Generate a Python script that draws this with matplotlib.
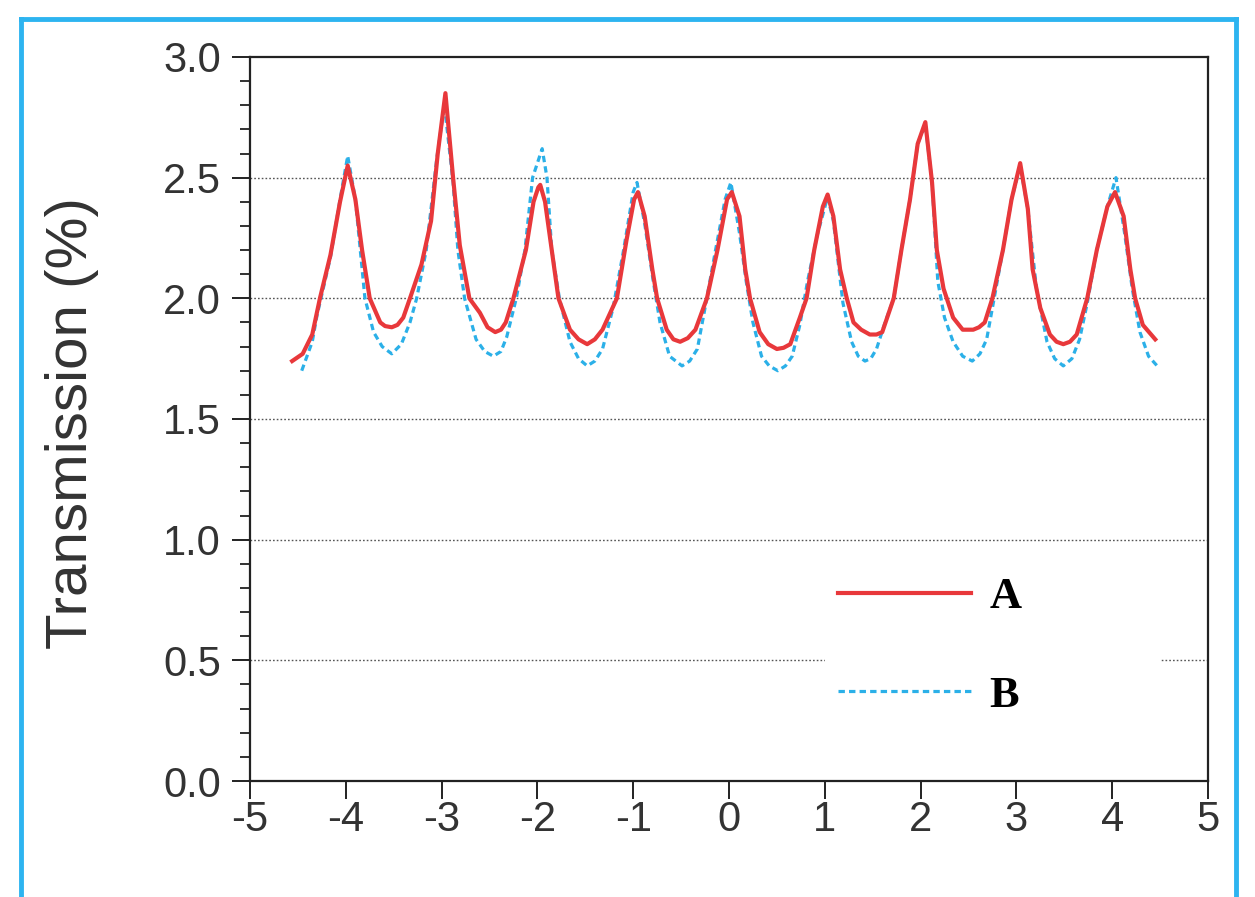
import matplotlib
matplotlib.use("Agg")
import matplotlib.pyplot as plt
from matplotlib.lines import Line2D
from matplotlib.ticker import MultipleLocator

# ---- data ----
x_a = [-4.56, -4.45, -4.35, -4.27, -4.16, -4.06, -3.98,
       -3.90, -3.83, -3.75, -3.64, -3.59, -3.52, -3.46, -3.40, -3.33, -3.21, -3.11, -3.04, -2.96,
       -2.88, -2.81, -2.71, -2.60, -2.52, -2.44, -2.38, -2.33, -2.25, -2.12, -2.04, -1.99, -1.97,
       -1.92, -1.85, -1.78, -1.66, -1.57, -1.48, -1.40, -1.32, -1.17, -1.07, -0.99, -0.95,
       -0.88, -0.80, -0.75, -0.65, -0.58, -0.51, -0.43, -0.35, -0.23, -0.12, -0.02, 0.03,
       0.11, 0.17, 0.22, 0.32, 0.41, 0.50, 0.57, 0.64, 0.74, 0.81, 0.89, 0.98, 1.03,
       1.09, 1.16, 1.23, 1.30, 1.38, 1.47, 1.54, 1.60, 1.72, 1.80, 1.89, 1.97, 2.05,
       2.12, 2.17, 2.24, 2.34, 2.44, 2.55, 2.61, 2.67, 2.75, 2.86, 2.95, 3.04,
       3.12, 3.17, 3.25, 3.35, 3.42, 3.49, 3.56, 3.63, 3.74, 3.84, 3.95, 4.03,
       4.12, 4.19, 4.24, 4.32, 4.45]
y_a = [1.74, 1.77, 1.85, 2.00, 2.18, 2.40, 2.55,
       2.41, 2.20, 2.00, 1.90, 1.885, 1.88, 1.89, 1.92, 2.00, 2.14, 2.32, 2.60, 2.85,
       2.50, 2.22, 2.00, 1.94, 1.88, 1.86, 1.87, 1.90, 2.00, 2.20, 2.40, 2.46, 2.47,
       2.40, 2.20, 2.00, 1.87, 1.83, 1.81, 1.83, 1.87, 2.00, 2.24, 2.41, 2.44,
       2.34, 2.12, 2.00, 1.87, 1.83, 1.82, 1.835, 1.87, 2.00, 2.20, 2.41, 2.44,
       2.34, 2.12, 2.00, 1.86, 1.81, 1.79, 1.795, 1.81, 1.92, 2.00, 2.20, 2.38, 2.43,
       2.34, 2.12, 2.00, 1.90, 1.87, 1.85, 1.85, 1.86, 2.00, 2.20, 2.41, 2.64, 2.73,
       2.48, 2.20, 2.04, 1.92, 1.87, 1.87, 1.88, 1.90, 2.00, 2.20, 2.41, 2.56,
       2.37, 2.12, 1.96, 1.85, 1.82, 1.81, 1.82, 1.85, 2.00, 2.20, 2.38, 2.44,
       2.34, 2.12, 2.00, 1.89, 1.83]

x_b = [-4.46, -4.35, -4.30, -4.16, -4.06, -3.98,
       -3.90, -3.80, -3.71, -3.62, -3.52, -3.42, -3.33, -3.26, -3.16, -3.05, -2.97,
       -2.88, -2.83, -2.76, -2.64, -2.55, -2.46, -2.38, -2.32, -2.22, -2.13, -2.05, -1.95,
       -1.90, -1.85, -1.77, -1.66, -1.57, -1.48, -1.40, -1.32, -1.21, -1.10, -1.00, -0.96,
       -0.88, -0.79, -0.72, -0.62, -0.49, -0.41, -0.33, -0.25, -0.14, -0.04, 0.02,
       0.11, 0.18, 0.25, 0.34, 0.42, 0.51, 0.59, 0.66, 0.74, 0.82, 0.92, 1.03,
       1.09, 1.19, 1.28, 1.35, 1.42, 1.48, 1.54, 1.63, 1.72, 1.80, 1.89, 1.97, 2.05,
       2.12, 2.18, 2.25, 2.34, 2.44, 2.54, 2.62, 2.69, 2.75, 2.86, 2.95, 3.04,
       3.12, 3.21, 3.32, 3.40, 3.49, 3.58, 3.66, 3.74, 3.84, 3.95, 4.04,
       4.13, 4.21, 4.29, 4.38, 4.47]
y_b = [1.70, 1.82, 1.93, 2.17, 2.41, 2.59,
       2.41, 2.00, 1.86, 1.80, 1.77, 1.81, 1.90, 2.00, 2.20, 2.58, 2.80,
       2.48, 2.20, 2.00, 1.83, 1.78, 1.76, 1.78, 1.84, 2.00, 2.20, 2.50, 2.62,
       2.50, 2.20, 2.00, 1.82, 1.75, 1.72, 1.74, 1.79, 1.96, 2.20, 2.44, 2.48,
       2.31, 2.07, 1.90, 1.76, 1.72, 1.74, 1.79, 1.96, 2.20, 2.41, 2.48,
       2.27, 2.07, 1.90, 1.76, 1.72, 1.70, 1.72, 1.76, 1.89, 2.07, 2.26, 2.42,
       2.32, 1.98, 1.82, 1.76, 1.74, 1.75, 1.79, 1.90, 2.00, 2.20, 2.41, 2.64, 2.72,
       2.48, 2.07, 1.92, 1.82, 1.76, 1.74, 1.77, 1.83, 1.96, 2.20, 2.41, 2.55,
       2.37, 2.04, 1.82, 1.75, 1.72, 1.75, 1.83, 1.98, 2.20, 2.38, 2.50,
       2.27, 2.04, 1.86, 1.76, 1.72]

x_ticks = [-5, -4, -3, -2, -1, 0, 1, 2, 3, 4, 5]
y_ticks = [0.0, 0.5, 1.0, 1.5, 2.0, 2.5, 3.0]
grid_levels = [0.5, 1.0, 1.5, 2.0, 2.5]
labels = ["A", "B"]

RED = "#E8383B"
BLUE = "#2BB0E8"
FRAME = "#2DB4F0"

fig = plt.figure(figsize=(12.55, 8.97), dpi=100)
fig.patch.set_facecolor("white")

# blue outer frame (no bottom edge visible)
for xs, ys in [([0.0167, 0.0167], [0.0, 0.9783]),
               ([0.9845, 0.9845], [0.0, 0.9783]),
               ([0.0167, 0.9845], [0.9783, 0.9783])]:
    fig.add_artist(Line2D(xs, ys, transform=fig.transFigure, color=FRAME,
                          lw=3.5, solid_capstyle="projecting"))

ax = fig.add_axes([0.1992, 0.1293, 0.9625 - 0.1992, 0.9365 - 0.1293])
ax.set_xlim(-5, 5)
ax.set_ylim(0, 3.0)

for g in grid_levels:
    ax.axhline(g, color="#555555", lw=1.0, ls=(0, (1.2, 1.5)), zorder=1)

ax.plot(x_b, y_b, color=BLUE, lw=2.3, ls=(0, (2.0, 1.3)), zorder=3,
        label=labels[1], solid_joinstyle="round")
ax.plot(x_a, y_a, color=RED, lw=3.0, zorder=4, label=labels[0],
        solid_joinstyle="round")

ax.set_xticks(x_ticks)
ax.set_xticklabels([str(t) for t in x_ticks])
ax.set_yticks(y_ticks)
ax.set_yticklabels([f"{t:.1f}" for t in y_ticks])
ax.yaxis.set_minor_locator(MultipleLocator(0.1))

for sp in ax.spines.values():
    sp.set_linewidth(1.6)
    sp.set_color("#222222")

ax.tick_params(axis="both", which="major", direction="out", length=13, width=1.4,
               labelsize=30, colors="#222222")
ax.tick_params(axis="y", which="major", pad=8)
ax.tick_params(axis="x", which="major", pad=1)
ax.tick_params(axis="y", which="minor", direction="out", length=7, width=1.3,
               colors="#222222")
for lab in ax.get_xticklabels() + ax.get_yticklabels():
    lab.set_fontfamily("Liberation Sans")
    lab.set_color("#333333")

ax.set_ylabel("Transmission (%)", fontsize=42, family="Liberation Sans",
              color="#333333")
ax.yaxis.set_label_coords(-0.158, 0.495)

handles, labs = ax.get_legend_handles_labels()
order = [1, 0]
leg = ax.legend([handles[i] for i in order], [labs[i] for i in order],
                loc="upper left", bbox_to_anchor=(0.600, 0.100, 0.350, 0.2),
                mode="expand", frameon=True, fancybox=False,
                prop={"family": "Liberation Serif", "weight": "bold", "size": 32},
                handlelength=3.0, handletextpad=0.4, labelspacing=1.32,
                borderpad=0.3, borderaxespad=0)
leg.get_frame().set_facecolor("white")
leg.get_frame().set_edgecolor("none")
leg.get_frame().set_alpha(1.0)
leg.set_zorder(5)

fig.savefig("out.png", dpi=100, facecolor="white")
